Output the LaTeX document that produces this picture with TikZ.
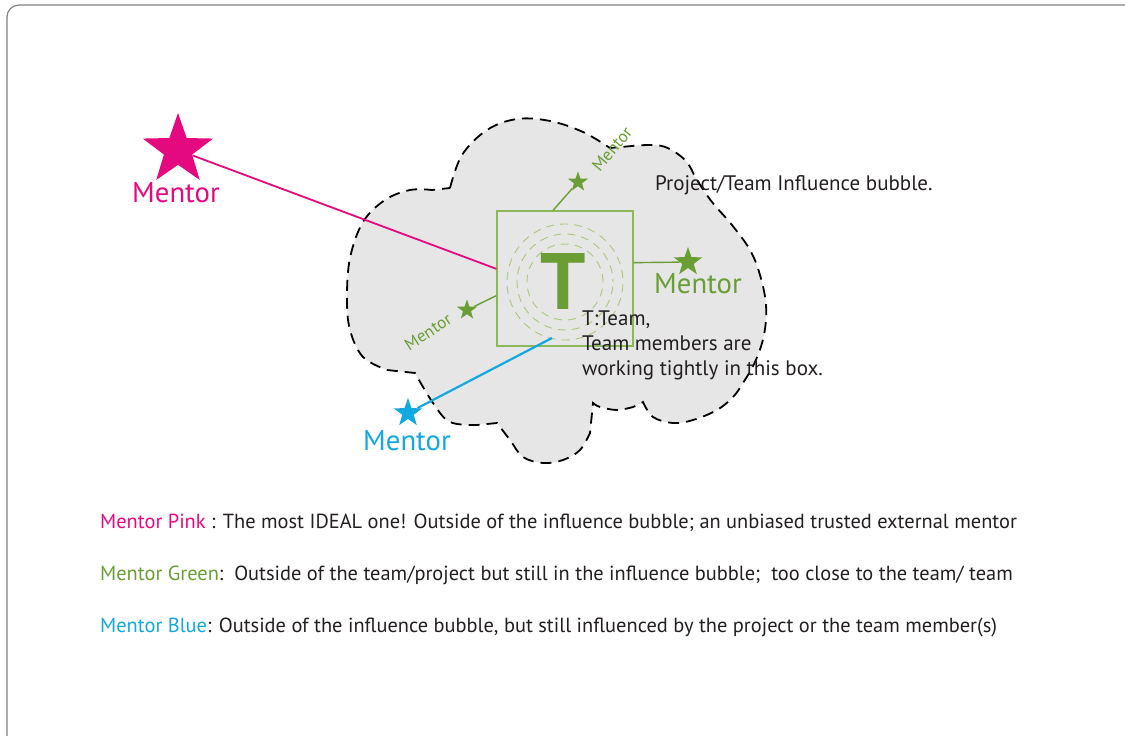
\documentclass[tikz,border=0pt]{standalone}
\usepackage{fontspec}
\setmainfont{PT Sans}
\usetikzlibrary{positioning,shapes.geometric}
\definecolor{mpink}{HTML}{E5097F}
\definecolor{mgreen}{HTML}{6A9E34}
\definecolor{mblue}{HTML}{14A8E0}
\definecolor{boxgreen}{HTML}{8DB85A}
\definecolor{ringgreen}{HTML}{A9C77E}
\definecolor{ink}{HTML}{231F20}
\definecolor{cloudgray}{HTML}{E6E6E6}

\begin{document}
\begin{tikzpicture}[x=1pt, y=-1pt,
		star5/.style={star, star points=5, star point ratio=2.5, inner sep=0pt, draw=none, fill=#1},
		big/.style={font=\fontsize{28.7}{30}\selectfont, inner sep=0pt},
		small/.style={font=\fontsize{17}{18}\selectfont, inner sep=0pt, text=mgreen},
		note/.style={font=\fontsize{21}{25}\selectfont, text=ink, inner sep=0pt, align=left},
		leg/.style={font=\fontsize{20.4}{22}\selectfont, text=ink, inner sep=0pt, anchor=west}]
		\useasboundingbox (0,0) rectangle (1125,736);
		\clip (0,0) rectangle (1125,736);
		\draw[gray, line width=1.2pt, rounded corners=12pt] (7,5) rectangle (1140,750);

		% influence bubble
		\draw[fill=cloudgray, line width=1.8pt, dash pattern=on 11pt off 7pt]
			plot[smooth, tension=.6] coordinates {(450,188) (462,155) (487,130) (517,119) (550,121) (583,132) (610,148)}
			-- plot[smooth, tension=.6] coordinates {(632,146) (662,146) (685,160) (697,180) (712,202) (732,225) (750,250) (760,275) (766,305) (764,335) (755,362) (743,383) (733,397) (717,410) (693,420) (673,423) (653,417) (643,402)}
			-- plot[smooth, tension=.6] coordinates {(633,407) (617,410) (600,407) (593,403)}
			-- plot[smooth, tension=.6] coordinates {(590,433) (580,450) (563,460) (543,463) (523,457) (510,440) (497,423)}
			-- plot[smooth, tension=.6] coordinates {(477,425) (450,422) (433,403) (415,373)}
			-- plot[smooth, tension=.6] coordinates {(387,370) (363,357) (350,330) (347,298) (350,258) (363,222) (385,200) (410,190) (432,190)}
			-- cycle;

		% team box
		\node[draw=boxgreen, line width=1.2pt, minimum width=136pt, minimum height=135pt, inner sep=0pt] (team) at (565,278.5) {};
		\foreach \r/\ph in {38/0, 48/5, 58/10}
			\draw[ringgreen, line width=0.9pt, dash pattern=on 8pt off 6pt, dash phase=\ph pt] (565,282) circle (\r pt);
		\node[text=mgreen, font=\fontsize{80}{80}\selectfont\bfseries, inner sep=0pt] (tletter) at (563,281) {T};

		% mentors
		\node[star5=mpink, minimum size=74pt] (pinkstar) at (178,150) {};
		\node[big, text=mpink] (pinklabel) at (176,193) {Mentor};
		\node[star5=mgreen, minimum size=21pt] (topstar) at (578,182) {};
		\node[small, rotate=50] (toplabel) at (612,149) {Mentor};
		\node[star5=mgreen, minimum size=30pt] (rightstar) at (688,262) {};
		\node[big, text=mgreen] (rightlabel) at (698,284) {Mentor};
		\node[star5=mgreen, minimum size=21pt] (leftstar) at (467,310) {};
		\node[small, rotate=33] (leftlabel) at (428,332) {Mentor};
		\node[star5=mblue, minimum size=30pt] (bluestar) at (408,413) {};
		\node[big, text=mblue] (bluelabel) at (407,441) {Mentor};
		\coordinate (bluein) at (552,338);

		\path[mpink, line width=1.8pt] (pinkstar) edge (team.172);
		\path[mgreen, line width=1.4pt] (team.100) edge (topstar);
		\path[mgreen, line width=1.4pt] (team.13) edge (rightstar);
		\path[mgreen, line width=1.4pt] (team.194) edge (leftstar);
		\path[mblue, line width=2.2pt] (bluein) edge (bluestar);

		% notes
		\node[note, anchor=west] (bubblenote) at (655,185) {Project/Team Influence bubble.};
		\node[note, anchor=north west] (teamnote) at (582,311) {T:Team,\\Team members are\\working tightly in this box.};

		% legend
		\node[leg] (legpink) at (100,523) {\textcolor{mpink}{Mentor Pink} : The most IDEAL one! Outside of the influence bubble; an unbiased trusted external mentor};
		\node[leg] (leggreen) at (100,575) {\textcolor{mgreen}{Mentor Green}:\ \ Outside of the team/project but still in the influence bubble;\ \ too close to the team/ team};
		\node[leg] (legblue) at (100,627) {\textcolor{mblue}{Mentor Blue}: Outside of the influence bubble, but still influenced by the project or the team member(s)};
	\end{tikzpicture}
\end{document}
